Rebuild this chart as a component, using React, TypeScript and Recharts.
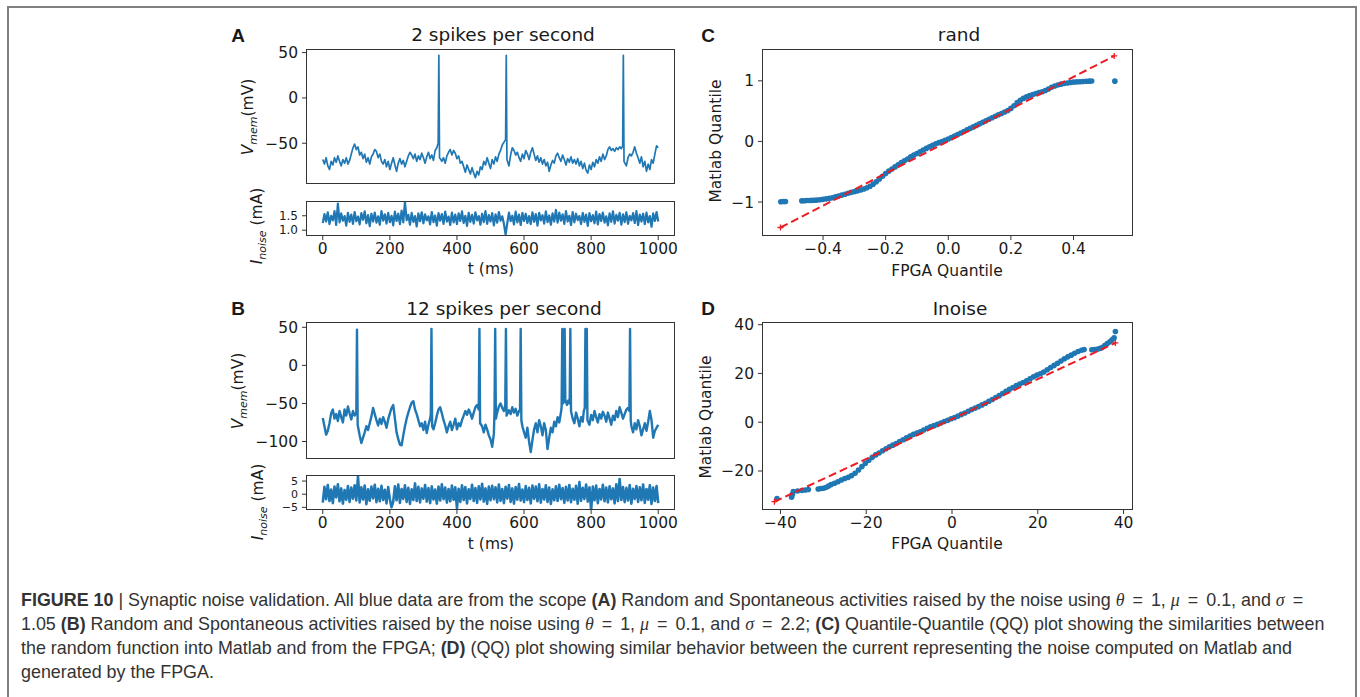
import React from "react";
import { LineChart, Line, ScatterChart, Scatter, XAxis, YAxis } from "recharts";

const BLUE = "#1f77b4";
const RED = "#ec1c24";
const PLOT_FONT = "'DejaVu Sans', sans-serif";
const CAPTION_FONT = "'Liberation Sans', Arial, sans-serif";

// shared time axis of panels A and B
const timeTicks = [0, 200, 400, 600, 800, 1000];
const noiseStep = 5; // ms between two noise samples

// panel A: membrane potential (t ms, mV)
const vmemA: [number, number][] = [
  [0, -68], [5, -73], [10, -66], [15, -75], [20, -79], [25, -70], [30, -74], [35, -66], [40, -71], [45, -64],
  [50, -70], [55, -75], [60, -68], [65, -72], [70, -66], [75, -73], [80, -69], [85, -62], [90, -55], [95, -51],
  [100, -57], [105, -54], [110, -63], [115, -60], [120, -67], [125, -62], [130, -71], [135, -66], [140, -73], [145, -65],
  [150, -62], [155, -57], [160, -59], [165, -66], [170, -62], [175, -70], [180, -73], [185, -68], [190, -76], [195, -70],
  [200, -79], [205, -72], [210, -66], [215, -74], [220, -81], [225, -72], [230, -67], [235, -73], [240, -69], [245, -76],
  [250, -70], [255, -64], [260, -60], [265, -63], [270, -67], [275, -62], [280, -70], [285, -64], [290, -68], [295, -61],
  [300, -66], [305, -72], [310, -65], [315, -60], [320, -67], [325, -63], [330, -69], [335, -58], [340, -55], [344, -50],
  [346, 47], [348, -66], [352, -68], [355, -70], [360, -66], [365, -72], [370, -64], [375, -60], [380, -57], [385, -63],
  [390, -58], [395, -61], [400, -67], [405, -64], [410, -72], [415, -70], [420, -76], [425, -82], [430, -74], [435, -79],
  [440, -84], [445, -77], [450, -83], [455, -88], [460, -81], [465, -85], [470, -76], [475, -79], [480, -70], [485, -74],
  [490, -66], [495, -72], [500, -78], [505, -68], [510, -73], [515, -65], [520, -70], [525, -62], [530, -58], [535, -52],
  [540, -49], [545, -46], [547, 47], [549, -68], [555, -75], [560, -63], [565, -55], [570, -58], [575, -63], [580, -60],
  [585, -66], [590, -70], [595, -62], [600, -67], [605, -58], [610, -62], [615, -68], [620, -60], [625, -55], [630, -62],
  [635, -69], [640, -64], [645, -71], [650, -66], [655, -73], [660, -68], [665, -75], [670, -71], [675, -81], [680, -74],
  [685, -69], [690, -72], [695, -64], [700, -61], [705, -66], [710, -70], [715, -63], [720, -68], [725, -74], [730, -67],
  [735, -71], [740, -65], [745, -72], [750, -68], [755, -73], [760, -67], [765, -75], [770, -70], [775, -78], [780, -72],
  [785, -80], [790, -83], [795, -74], [800, -79], [805, -71], [810, -76], [815, -68], [820, -72], [825, -65], [830, -70],
  [835, -62], [840, -68], [845, -64], [850, -57], [855, -54], [860, -58], [865, -56], [870, -59], [875, -55], [880, -57],
  [885, -54], [890, -56], [894, -53], [896, 47], [898, -70], [905, -75], [910, -66], [915, -62], [920, -64], [925, -60],
  [930, -54], [935, -61], [940, -66], [945, -72], [950, -65], [955, -76], [960, -70], [965, -81], [970, -73], [975, -79],
  [980, -68], [985, -72], [990, -62], [995, -53], [1000, -55],
];

// panel A: noise current (mA), one value every noiseStep ms
const noiseA = [
  1.25, 1.56, 1.3, 1.62, 1.21, 1.5, 1.34, 1.66, 1.18, 1.92, 1.27, 1.58, 1.33, 1.49, 1.16, 1.6, 1.29, 1.54, 1.22, 1.63,
  1.31, 1.47, 1.2, 1.59, 1.36, 1.65, 1.24, 1.52, 1.14, 1.57, 1.3, 1.61, 1.26, 1.48, 1.19, 1.66, 1.33, 1.55, 1.23, 1.6,
  1.28, 1.5, 1.17, 1.64, 1.32, 1.57, 1.21, 1.68, 1.27, 1.98, 1.35, 1.53, 1.19, 1.6, 1.29, 1.49, 1.13, 1.58, 1.31, 1.62,
  1.24, 1.55, 1.34, 1.48, 1.2, 1.63, 1.28, 1.51, 1.16, 1.59, 1.33, 1.56, 1.22, 1.64, 1.3, 1.47, 1.18, 1.61, 1.27, 1.54,
  1.21, 1.58, 1.32, 1.65, 1.25, 1.5, 1.15, 1.6, 1.29, 1.53, 1.23, 1.62, 1.34, 1.49, 1.19, 1.57, 1.28, 1.66, 1.22, 1.52,
  1.3, 1.59, 1.17, 1.55, 1.26, 1.63, 1.33, 1.48, 1.22, 0.85, 1.24, 1.61, 1.31, 1.5, 1.2, 1.64, 1.27, 1.54, 1.18, 1.6,
  1.32, 1.57, 1.25, 1.49, 1.21, 1.62, 1.29, 1.56, 1.16, 1.6, 1.34, 1.52, 1.23, 1.65, 1.28, 1.51, 1.19, 1.58, 1.3, 1.7,
  1.26, 1.61, 1.33, 1.55, 1.22, 1.66, 1.3, 1.5, 1.18, 1.63, 1.27, 1.57, 1.35, 1.49, 1.21, 1.6, 1.29, 1.54, 1.15, 1.59,
  1.31, 1.52, 1.24, 1.64, 1.2, 1.56, 1.32, 1.61, 1.26, 1.48, 1.17, 1.58, 1.29, 1.65, 1.23, 1.53, 1.33, 1.6, 1.19, 1.55,
  1.28, 1.62, 1.22, 1.5, 1.34, 1.59, 1.25, 1.66, 1.18, 1.54, 1.3, 1.57, 1.21, 1.61, 1.27, 1.49, 1.12, 1.58, 1.32, 1.63,
  1.3,
];

// panel B: membrane potential (t ms, mV)
const vmemB: [number, number][] = [
  [0, -69], [5, -80], [10, -91], [15, -86], [20, -76], [25, -63], [30, -58], [35, -70], [40, -64], [45, -73],
  [50, -60], [55, -68], [60, -75], [65, -58], [70, -66], [75, -54], [80, -63], [85, -71], [90, -60], [95, -66],
  [100, -62], [102, 47], [104, -78], [110, -92], [115, -102], [120, -95], [125, -88], [130, -80], [135, -85], [140, -76],
  [145, -67], [150, -56], [155, -64], [160, -72], [165, -79], [170, -70], [175, -77], [180, -68], [185, -74], [190, -82],
  [195, -71], [200, -63], [205, -56], [210, -52], [215, -70], [220, -88], [225, -97], [230, -104], [235, -105], [240, -92],
  [245, -80], [250, -70], [255, -62], [260, -55], [265, -49], [270, -47], [275, -58], [280, -64], [285, -72], [290, -80],
  [295, -76], [300, -85], [305, -74], [310, -89], [315, -78], [320, -70], [322, -64], [324, 48], [326, -80], [330, -84],
  [335, -76], [340, -66], [345, -58], [350, -55], [355, -63], [360, -72], [365, -79], [370, -88], [375, -80], [380, -74],
  [385, -85], [390, -78], [395, -70], [400, -84], [405, -76], [410, -80], [415, -72], [420, -66], [425, -60], [430, -65],
  [435, -58], [440, -63], [445, -70], [450, -62], [455, -55], [460, -52], [465, -58], [467, 48], [469, -76], [475, -80],
  [480, -88], [485, -78], [490, -84], [495, -92], [500, -97], [505, -107], [510, -90], [512, -60], [514, 48], [516, -70],
  [520, -62], [525, -54], [530, -50], [535, -56], [540, -60], [544, -52], [546, 48], [548, -66], [555, -59], [560, -64],
  [565, -55], [570, -62], [575, -57], [580, -66], [585, -60], [588, -58], [590, 48], [592, -72], [595, -80], [600, -88],
  [605, -95], [610, -82], [615, -100], [620, -114], [625, -98], [630, -84], [635, -76], [640, -88], [645, -72], [650, -80],
  [655, -92], [660, -76], [665, -85], [670, -110], [675, -95], [680, -82], [685, -88], [690, -74], [695, -80], [700, -68],
  [705, -75], [710, -62], [712, -55], [714, 48], [716, -50], [719, -48], [721, 48], [723, -45], [728, -52], [732, -46],
  [736, -50], [738, 48], [740, -60], [745, -70], [750, -76], [755, -62], [760, -70], [765, -80], [770, -68], [775, -74],
  [778, -60], [781, -56], [783, 48], [785, -55], [787, 48], [789, -72], [795, -78], [800, -65], [805, -72], [810, -60],
  [815, -68], [820, -75], [825, -64], [830, -70], [835, -61], [840, -66], [845, -74], [850, -62], [855, -70], [860, -78],
  [865, -66], [870, -72], [875, -60], [880, -68], [885, -55], [890, -62], [895, -70], [900, -64], [905, -58], [910, -56],
  [914, -60], [916, 48], [918, -72], [920, -80], [925, -88], [930, -76], [935, -84], [940, -72], [945, -80], [950, -92],
  [955, -84], [960, -76], [965, -86], [970, -74], [975, -60], [980, -72], [985, -95], [990, -86], [995, -82], [1000, -78],
];

// panel B: noise current (mA), one value every noiseStep ms
const noiseB = [
  -3.2, 2.8, -1.9, 3.5, -2.6, 1.8, -3.4, 2.9, -1.2, 3.8, -2.7, 2.2, -3.6, 1.6, -2.1, 3.1, -2.9, 2.5, -1.7, 3.4,
  -2.4, 6.8, -3.1, 2.6, -2.0, 3.3, -3.8, 1.9, -2.5, 2.9, -1.6, 3.6, -3.0, 2.1, -2.7, 3.2, -2.2, 1.7, -3.5, 2.7,
  -1.9, -4.9, -2.8, 3.0, -2.3, 3.7, -3.3, 2.0, -1.8, 3.4, -2.9, 2.4, -3.7, 1.9, -2.2, 4.1, -2.6, 2.8, -3.1, 2.2,
  -1.7, 3.5, -2.8, 2.3, -3.4, 3.0, -2.0, 1.8, -3.6, 2.9, -2.4, 3.8, -1.9, 2.5, -3.2, 2.0, -2.7, 3.3, -2.1, 2.6,
  -5.4, 2.1, -2.9, 3.4, -2.2, 2.7, -3.5, 1.9, -1.8, 3.6, -2.6, 2.3, -3.3, 3.0, -2.0, 4.0, -2.8, 2.2, -3.7, 2.9,
  -2.3, 3.2, -1.9, 2.6, -3.1, 3.7, -2.5, 2.0, -3.4, 2.8, -1.7, 3.5, -2.9, 2.2, -3.6, 2.7, -2.1, 3.9, -2.4, 1.8,
  -3.0, 3.1, -2.2, 2.4, -3.5, 3.3, -1.8, 2.9, -2.7, 3.8, -3.2, 2.0, -2.0, 3.4, -2.9, 2.5, -3.7, 1.9, -2.3, 3.0,
  -2.6, 3.6, -1.9, 2.3, -3.3, 2.8, -2.4, 3.5, -3.0, 2.1, -2.1, 3.2, -3.6, 4.6, -2.5, 2.4, -1.8, 3.7, -2.8, 2.6,
  -6.2, 2.9, -2.3, 3.3, -3.4, 2.0, -2.0, 3.6, -2.7, 2.5, -3.1, 3.0, -1.9, 2.2, -3.5, 3.8, -2.6, 5.8, -2.2, 2.7,
  -3.0, 2.4, -2.4, 3.5, -3.6, 2.1, -1.8, 3.1, -2.9, 2.6, -2.3, 3.7, -3.3, 2.0, -2.1, 3.4, -3.7, 2.5, -2.6, 3.1,
  -3.4,
];

// panel C: quantiles (FPGA, Matlab)
const qqRand: [number, number][] = [
  [-0.535, -0.995], [-0.527, -0.99], [-0.52, -0.99],
  [-0.468, -0.98], [-0.46, -0.978], [-0.452, -0.975], [-0.444, -0.975], [-0.436, -0.972], [-0.428, -0.97], [-0.42, -0.968],
  [-0.41, -0.962], [-0.4, -0.955], [-0.39, -0.948], [-0.38, -0.94], [-0.37, -0.928], [-0.36, -0.915], [-0.35, -0.9],
  [-0.34, -0.885], [-0.33, -0.87], [-0.32, -0.855], [-0.31, -0.84], [-0.3, -0.828], [-0.29, -0.815], [-0.28, -0.8],
  [-0.27, -0.785], [-0.26, -0.765], [-0.25, -0.74], [-0.24, -0.705], [-0.23, -0.665], [-0.22, -0.62], [-0.21, -0.575],
  [-0.2, -0.53], [-0.19, -0.49], [-0.18, -0.455], [-0.17, -0.42], [-0.16, -0.385], [-0.15, -0.35], [-0.14, -0.32],
  [-0.13, -0.29], [-0.12, -0.255], [-0.11, -0.225], [-0.1, -0.2], [-0.09, -0.17], [-0.08, -0.14], [-0.07, -0.115],
  [-0.06, -0.09], [-0.05, -0.065], [-0.04, -0.04], [-0.03, -0.02], [-0.02, 0], [-0.01, 0.02], [0, 0.04], [0.01, 0.065],
  [0.02, 0.09], [0.03, 0.115], [0.04, 0.14], [0.05, 0.165], [0.06, 0.19], [0.07, 0.215], [0.08, 0.24], [0.09, 0.265],
  [0.1, 0.29], [0.11, 0.315], [0.12, 0.34], [0.13, 0.365], [0.14, 0.39], [0.15, 0.415], [0.16, 0.44], [0.17, 0.46],
  [0.18, 0.485], [0.19, 0.51], [0.2, 0.545], [0.21, 0.59], [0.22, 0.64], [0.23, 0.68], [0.24, 0.71], [0.25, 0.735],
  [0.26, 0.755], [0.27, 0.775], [0.28, 0.79], [0.29, 0.805], [0.3, 0.82], [0.31, 0.84], [0.32, 0.865], [0.33, 0.895],
  [0.34, 0.915], [0.35, 0.93], [0.36, 0.945], [0.37, 0.955], [0.38, 0.965], [0.39, 0.972], [0.4, 0.978], [0.41, 0.982],
  [0.42, 0.985], [0.43, 0.99], [0.44, 0.992], [0.45, 0.995], [0.458, 0.996],
  [0.532, 0.995],
];
const fitRand: [number, number][] = [[-0.536, -1.42], [0.53, 1.41]];

// panel D: quantiles (FPGA, Matlab)
const qqNoise: [number, number][] = [
  [-40.8, -31.3], [-37.4, -30.8], [-37.2, -29.6], [-37, -28.4], [-36, -28.2], [-35, -28], [-34.2, -27.8], [-33.5, -27.6],
  [-31.2, -27.4], [-30.6, -27.2], [-30, -27.1], [-29.4, -26.8], [-28.8, -26.2], [-28.2, -25.6], [-27.4, -25], [-26.6, -24.4],
  [-25.8, -23.7], [-25, -23.1], [-24.2, -22.6], [-23.4, -21.9], [-22.6, -20.9], [-21.8, -19.6], [-21, -18.2], [-20.2, -16.8],
  [-19.4, -15.6], [-18.6, -14.4], [-17.8, -13.4], [-17, -12.6], [-16.2, -11.7], [-15.4, -10.9], [-14.6, -10.1], [-13.8, -9.4],
  [-13, -8.7], [-12.2, -7.9], [-11.4, -7.2], [-10.6, -6.4], [-9.8, -5.7], [-9, -5], [-8.2, -4.4], [-7.4, -3.9],
  [-6.6, -3.2], [-5.8, -2.5], [-5, -1.9], [-4.2, -1.4], [-3.4, -0.9], [-2.6, -0.3], [-1.8, 0.3], [-1, 0.8],
  [-0.2, 1.4], [0.6, 1.9], [1.4, 2.5], [2.2, 3.2], [3, 3.8], [3.8, 4.5], [4.6, 5.2], [5.4, 5.8],
  [6.2, 6.4], [7, 7.1], [7.8, 7.8], [8.6, 8.6], [9.4, 9.3], [10.2, 10.1], [11, 10.9], [11.8, 11.8],
  [12.6, 12.7], [13.4, 13.5], [14.2, 14.2], [15, 15], [15.8, 15.7], [16.6, 16.3], [17.4, 17], [18.2, 17.8],
  [19, 18.6], [19.8, 19.3], [20.6, 19.9], [21.4, 20.6], [22.2, 21.5], [23, 22.4], [23.8, 23.3], [24.6, 24.2],
  [25.4, 25.1], [26.2, 26], [27, 26.8], [27.8, 27.5], [28.6, 28.3], [29.4, 29], [30.2, 29.5], [30.8, 29.8],
  [32.6, 29.7], [33.2, 29.8], [33.8, 29.9], [34.4, 30.2], [35, 30.6], [35.6, 31.4], [36.2, 32.3], [36.8, 33],
  [37.3, 33.8], [37.8, 34.6], [38.1, 37.2],
];
const fitNoise: [number, number][] = [[-41.4, -32.6], [38.1, 32.5]];

type Rect = { x: number; y: number; w: number; h: number };

const AXIS_W = 64;
const PAD = 6;
const X_AXIS_H = 32;

const tickStyle = { fill: "#1a1a1a", fontSize: 15.5, fontFamily: PLOT_FONT };
const tickLine = { stroke: "#333" };
const minus = (v: number) => String(v).replace("-", "\u2212");

const Frame = ({ r }: { r: Rect }) => (
  <div
    style={{
      position: "absolute",
      left: r.x,
      top: r.y,
      width: r.w,
      height: r.h,
      border: "1px solid #333",
      boxSizing: "border-box",
      pointerEvents: "none",
    }}
  />
);

// text centred on (x, y)
const Txt = ({ x, y, size, rotate, bold, family, children }: any) => (
  <div
    style={{
      position: "absolute",
      left: x,
      top: y,
      transform: `translate(-50%, -50%)${rotate ? " rotate(-90deg)" : ""}`,
      fontSize: size,
      fontWeight: bold ? 700 : 400,
      fontFamily: family || PLOT_FONT,
      color: "#1a1a1a",
      whiteSpace: "nowrap",
      lineHeight: 1,
    }}
  >
    {children}
  </div>
);

const Trace = ({ plot, data, yDomain, yTicks, showX, width, fmt, yFont }: any) => (
  <>
    <div style={{ position: "absolute", left: plot.x - AXIS_W, top: plot.y - PAD }}>
      <LineChart
        width={AXIS_W + plot.w + PAD}
        height={PAD + plot.h + (showX ? X_AXIS_H : 0)}
        data={data}
        margin={{ top: PAD, right: PAD, bottom: 0, left: 0 }}
      >
        <XAxis
          dataKey="t"
          type="number"
          domain={[-50, 1050]}
          ticks={timeTicks}
          allowDataOverflow
          hide={!showX}
          height={X_AXIS_H}
          axisLine={false}
          tickLine={tickLine}
          tickSize={4}
          tickMargin={3}
          tick={tickStyle}
          interval={0}
        />
        <YAxis
          type="number"
          domain={yDomain}
          ticks={yTicks}
          allowDataOverflow
          width={AXIS_W}
          axisLine={false}
          tickLine={tickLine}
          tickSize={4}
          tickMargin={4}
          tick={yFont ? { ...tickStyle, fontSize: yFont } : tickStyle}
          tickFormatter={fmt || minus}
          interval={0}
        />
        <Line
          dataKey="v"
          type="linear"
          stroke={BLUE}
          strokeWidth={width}
          strokeLinejoin="round"
          dot={false}
          isAnimationActive={false}
        />
      </LineChart>
    </div>
    <Frame r={plot} />
  </>
);

const Cross = (p: any) => (
  <path
    d={`M${p.cx - 3},${p.cy}h6M${p.cx},${p.cy - 3}v6`}
    stroke={RED}
    strokeWidth={1.3}
  />
);
const Dot = (p: any) => <circle cx={p.cx} cy={p.cy} r={2.8} fill={BLUE} />;

const QQ = ({ plot, pts, fit, xDomain, yDomain, xTicks, yTicks, xFmt }: any) => (
  <>
    <div style={{ position: "absolute", left: plot.x - AXIS_W, top: plot.y - PAD }}>
      <ScatterChart
        width={AXIS_W + plot.w + PAD}
        height={PAD + plot.h + X_AXIS_H}
        margin={{ top: PAD, right: PAD, bottom: 0, left: 0 }}
      >
        <XAxis
          dataKey="x"
          type="number"
          domain={xDomain}
          ticks={xTicks}
          allowDataOverflow
          height={X_AXIS_H}
          axisLine={false}
          tickLine={tickLine}
          tickSize={4}
          tickMargin={3}
          tick={tickStyle}
          tickFormatter={xFmt || minus}
          interval={0}
        />
        <YAxis
          dataKey="y"
          type="number"
          domain={yDomain}
          ticks={yTicks}
          allowDataOverflow
          width={AXIS_W}
          axisLine={false}
          tickLine={tickLine}
          tickSize={4}
          tickMargin={4}
          tick={tickStyle}
          tickFormatter={minus}
          interval={0}
        />
        <Scatter
          data={pts.map(([x, y]: number[]) => ({ x, y }))}
          shape={Dot}
          isAnimationActive={false}
        />
        <Scatter
          data={fit.map(([x, y]: number[]) => ({ x, y }))}
          line={{ stroke: RED, strokeWidth: 2, strokeDasharray: "8 4" }}
          lineType="joint"
          shape={Cross}
          isAnimationActive={false}
        />
      </ScatterChart>
    </div>
    <Frame r={plot} />
  </>
);

const Vmem = () => (
  <>
    <i>V</i>
    <sub style={{ fontSize: 11, fontStyle: "italic" }}>mem</sub>(mV)
  </>
);
const Inoise = () => (
  <>
    <i>I</i>
    <sub style={{ fontSize: 11, fontStyle: "italic" }}>noise</sub> (mA)
  </>
);

const M = ({ children }: any) => (
  <span style={{ fontFamily: "'Liberation Serif', serif", fontStyle: "italic" }}>{children}</span>
);
const Eq = ({ children }: any) => <span style={{ margin: "0 8px" }}>{children}</span>;

const captionLines = [
  <>
    <b>FIGURE 10</b> | Synaptic noise validation. All blue data are from the scope <b>(A)</b> Random and Spontaneous
    activities raised by the noise using <M>θ</M><Eq>=</Eq>1, <M>μ</M><Eq>=</Eq>0.1, and <M>σ</M><Eq>=</Eq>
  </>,
  <>
    1.05 <b>(B)</b> Random and Spontaneous activities raised by the noise using <M>θ</M><Eq>=</Eq>1, <M>μ</M>
    <Eq>=</Eq>0.1, and <M>σ</M><Eq>=</Eq>2.2; <b>(C)</b> Quantile-Quantile (QQ) plot showing the similarities between
  </>,
  <>
    the random function into Matlab and from the FPGA; <b>(D)</b> (QQ) plot showing similar behavior between the current
    representing the noise computed on Matlab and
  </>,
  <>generated by the FPGA.</>,
];

const plotA = { x: 306, y: 49, w: 369, h: 135 };
const plotAn = { x: 306, y: 201, w: 369, h: 35 };
const plotB = { x: 306, y: 322, w: 369, h: 137 };
const plotBn = { x: 306, y: 475, w: 369, h: 35 };
const plotC = { x: 762, y: 49, w: 371, h: 187 };
const plotD = { x: 762, y: 322, w: 371, h: 188 };

export default function App() {
  const dataA = vmemA.map(([t, v]) => ({ t, v }));
  const dataB = vmemB.map(([t, v]) => ({ t, v }));
  const dataAn = noiseA.map((v, i) => ({ t: i * noiseStep, v }));
  const dataBn = noiseB.map((v, i) => ({ t: i * noiseStep, v }));

  return (
    <div style={{ position: "absolute", left: 0, top: 0, width: 1360, height: 697, background: "#fff", overflow: "hidden" }}>
      <div
        style={{
          position: "absolute",
          left: 7,
          top: 6,
          width: 1350,
          height: 760,
          border: "2px solid #808080",
          boxSizing: "border-box",
        }}
      />

      {/* panel A */}
      <Txt x={238} y={35} size={19} bold family="'Liberation Sans', Arial, sans-serif">A</Txt>
      <Txt x={503} y={35} size={18.5}>2 spikes per second</Txt>
      <Trace plot={plotA} data={dataA} yDomain={[-95, 54]} yTicks={[-50, 0, 50]} showX={false} width={1.7} />
      <Trace
        plot={plotAn}
        data={dataAn}
        yDomain={[0.8, 2.01]}
        yTicks={[1, 1.5]}
        showX
        width={2.2}
        yFont={12}
        fmt={(v: number) => v.toFixed(1)}
      />
      <Txt x={250} y={117} size={15.5} rotate><Vmem /></Txt>
      <Txt x={259} y={226} size={15.5} rotate><Inoise /></Txt>
      <Txt x={491} y={270} size={15.5}>t (ms)</Txt>

      {/* panel B */}
      <Txt x={238} y={308} size={19} bold family="'Liberation Sans', Arial, sans-serif">B</Txt>
      <Txt x={504} y={309} size={18.5}>12 spikes per second</Txt>
      <Trace plot={plotB} data={dataB} yDomain={[-123, 57]} yTicks={[-100, -50, 0, 50]} showX={false} width={2.4} />
      <Trace plot={plotBn} data={dataBn} yDomain={[-6, 7.3]} yTicks={[-5, 0, 5]} showX width={2.6} yFont={11} />
      <Txt x={240} y={391} size={15.5} rotate><Vmem /></Txt>
      <Txt x={260} y={502} size={15.5} rotate><Inoise /></Txt>
      <Txt x={491} y={545} size={15.5}>t (ms)</Txt>

      {/* panel C */}
      <Txt x={708} y={35} size={19} bold family="'Liberation Sans', Arial, sans-serif">C</Txt>
      <Txt x={959} y={35} size={18.5}>rand</Txt>
      <QQ
        plot={plotC}
        pts={qqRand}
        fit={fitRand}
        xDomain={[-0.595, 0.59]}
        yDomain={[-1.56, 1.525]}
        xTicks={[-0.4, -0.2, 0, 0.2, 0.4]}
        yTicks={[-1, 0, 1]}
        xFmt={(v: number) => minus(Number(v.toFixed(1))).replace(/^0$/, "0.0").replace(/^(−?\d)$/, "$1.0")}
      />
      <Txt x={717} y={141} size={15.5} rotate>Matlab Quantile</Txt>
      <Txt x={947} y={272} size={15.5}>FPGA Quantile</Txt>

      {/* panel D */}
      <Txt x={708} y={308} size={19} bold family="'Liberation Sans', Arial, sans-serif">D</Txt>
      <Txt x={960} y={309} size={18.5}>Inoise</Txt>
      <QQ
        plot={plotD}
        pts={qqNoise}
        fit={fitNoise}
        xDomain={[-44.3, 42.2]}
        yDomain={[-36, 41.1]}
        xTicks={[-40, -20, 0, 20, 40]}
        yTicks={[-20, 0, 20, 40]}
      />
      <Txt x={707} y={417} size={15.5} rotate>Matlab Quantile</Txt>
      <Txt x={947} y={545} size={15.5}>FPGA Quantile</Txt>

      {/* caption */}
      {captionLines.map((line, i) => (
        <div
          key={i}
          style={{
            position: "absolute",
            left: 21,
            top: 588 + i * 24,
            height: 24,
            lineHeight: "24px",
            fontSize: 17.9,
            fontFamily: CAPTION_FONT,
            color: "#333",
            whiteSpace: "nowrap",
          }}
        >
          {line}
        </div>
      ))}
    </div>
  );
}
